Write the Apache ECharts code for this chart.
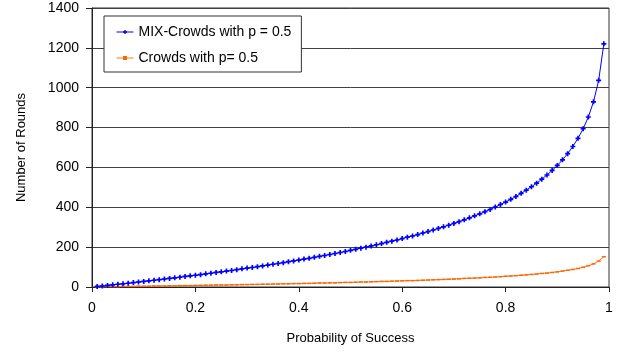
<!DOCTYPE html>
<html>
<head>
<meta charset="utf-8">
<script src="https://cdn.jsdelivr.net/npm/echarts@6/dist/echarts.min.js"></script>
<style>
  html, body { margin: 0; padding: 0; background: #fff; }
  #main { width: 619px; height: 354px; }
</style>
</head>
<body>
<div id="main"></div>
<script>
const probs = [
    0.01, 0.02, 0.03, 0.04, 0.05, 0.06, 0.07, 0.08, 0.09, 0.10,
    0.11, 0.12, 0.13, 0.14, 0.15, 0.16, 0.17, 0.18, 0.19, 0.20,
    0.21, 0.22, 0.23, 0.24, 0.25, 0.26, 0.27, 0.28, 0.29, 0.30,
    0.31, 0.32, 0.33, 0.34, 0.35, 0.36, 0.37, 0.38, 0.39, 0.40,
    0.41, 0.42, 0.43, 0.44, 0.45, 0.46, 0.47, 0.48, 0.49, 0.50,
    0.51, 0.52, 0.53, 0.54, 0.55, 0.56, 0.57, 0.58, 0.59, 0.60,
    0.61, 0.62, 0.63, 0.64, 0.65, 0.66, 0.67, 0.68, 0.69, 0.70,
    0.71, 0.72, 0.73, 0.74, 0.75, 0.76, 0.77, 0.78, 0.79, 0.80,
    0.81, 0.82, 0.83, 0.84, 0.85, 0.86, 0.87, 0.88, 0.89, 0.90,
    0.91, 0.92, 0.93, 0.94, 0.95, 0.96, 0.97, 0.98, 0.99
];

// MIX-Crowds with p = 0.5
const mixRounds = [
    3, 5, 8, 11, 14, 16, 19, 22, 25, 28,
    31, 34, 37, 40, 43, 46, 49, 53, 56, 59,
    62, 66, 69, 73, 76, 80, 83, 87, 91, 95,
    98, 102, 106, 110, 114, 118, 122, 127, 131, 135,
    140, 144, 149, 154, 158, 163, 168, 173, 178, 184,
    189, 195, 200, 206, 212, 218, 224, 230, 236, 243,
    250, 256, 263, 271, 278, 286, 294, 302, 310, 319,
    328, 337, 347, 357, 367, 378, 389, 401, 414, 426,
    440, 454, 470, 486, 503, 521, 541, 562, 585, 610,
    638, 669, 705, 746, 794, 853, 929, 1037, 1220
];

// Crowds with p = 0.5
const crowdsRounds = [
    1, 1, 2, 2, 2, 3, 3, 3, 4, 4,
    4, 5, 5, 5, 6, 6, 7, 7, 7, 8,
    8, 9, 9, 10, 10, 10, 11, 11, 12, 12,
    13, 13, 14, 14, 15, 15, 16, 16, 17, 17,
    18, 18, 19, 20, 20, 21, 21, 22, 23, 23,
    24, 25, 25, 26, 27, 28, 28, 29, 30, 31,
    32, 32, 33, 34, 35, 36, 37, 38, 39, 40,
    41, 43, 44, 45, 46, 48, 49, 50, 52, 54,
    55, 57, 59, 61, 63, 65, 68, 70, 73, 76,
    80, 84, 88, 93, 99, 107, 116, 130, 152
];

const seriesNames = ['MIX-Crowds with p = 0.5', 'Crowds with p= 0.5'];

const chart = echarts.init(document.getElementById('main'));
const font = 'Liberation Sans, Arial, sans-serif';
const plus = 'path://M2,0H4V2H6V4H4V6H2V4H0V2H2Z';

option = {
    backgroundColor: '#ffffff',
    animation: false,
    textStyle: { fontFamily: font, color: '#000' },
    grid: { left: 92, right: 10, top: 8, bottom: 67, show: true, borderColor: '#333', borderWidth: 1 },
    legend: {
        data: seriesNames,
        orient: 'vertical',
        left: 104,
        top: 16,
        itemWidth: 17,
        itemHeight: 5,
        itemGap: 10,
        padding: [8, 10, 6, 12],
        backgroundColor: '#ffffff',
        borderColor: '#333',
        borderWidth: 1,
        lineStyle: { width: 1 },
        textStyle: { fontFamily: font, fontSize: 14, color: '#000', lineHeight: 16 }
    },
    xAxis: {
        type: 'value',
        min: 0,
        max: 1,
        interval: 0.2,
        name: 'Probability of Success',
        nameLocation: 'middle',
        nameGap: 45,
        nameTextStyle: { fontFamily: font, fontSize: 13, color: '#000' },
        axisLine: { lineStyle: { color: '#222' } },
        axisTick: { show: true, length: 5, lineStyle: { color: '#222' } },
        axisLabel: { fontFamily: font, fontSize: 14, color: '#000', margin: 14,
            formatter: (v) => String(+v.toFixed(1)) },
        splitLine: { show: false }
    },
    yAxis: {
        type: 'value',
        min: 0,
        max: 1400,
        interval: 200,
        name: 'Number of Rounds',
        nameLocation: 'middle',
        nameGap: 64,
        nameTextStyle: { fontFamily: font, fontSize: 13, color: '#000' },
        axisLine: { show: true, lineStyle: { color: '#222' } },
        axisTick: { show: true, length: 6, lineStyle: { color: '#222' } },
        axisLabel: { fontFamily: font, fontSize: 14, color: '#000', margin: 13,
            formatter: (v) => String(v) },
        splitLine: { show: true, lineStyle: { color: '#404040', width: 1 } }
    },
    series: [
        {
            name: seriesNames[0],
            type: 'line',
            data: probs.map((p, i) => [p, mixRounds[i]]),
            symbol: plus,
            symbolSize: 5,
            showAllSymbol: true,
            color: '#0000ff',
            lineStyle: { color: '#0000ff', width: 1 },
            itemStyle: { color: '#0000ff' },
            z: 3
        },
        {
            name: seriesNames[1],
            type: 'line',
            data: probs.map((p, i) => [p, crowdsRounds[i]]),
            symbol: 'rect',
            symbolSize: [4, 1.5],
            showAllSymbol: true,
            color: '#ff6600',
            lineStyle: { color: '#ff7a26', width: 1 },
            itemStyle: { color: '#ff6600' },
            z: 2
        }
    ]
};

chart.setOption(option);
</script>
</body>
</html>
